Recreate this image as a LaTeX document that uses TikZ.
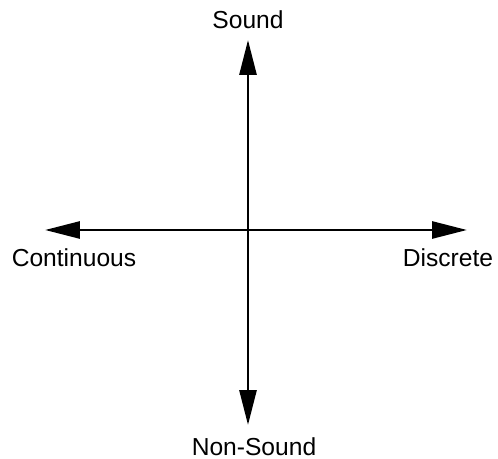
\documentclass[tikz,border=0pt]{standalone}
\usepackage{fontspec}
\setmainfont{Liberation Sans}
\usetikzlibrary{arrows.meta}
\tikzset{
  axislabel/.style={font=\fontsize{14}{16}\selectfont, inner sep=0pt},
  axisarrow/.style={-{Triangle[length=0.7cm, width=0.34cm]}, line width=1.6pt}
}
\begin{document}
\begin{tikzpicture}[x=0.02cm, y=0.02cm]
				\useasboundingbox (0,0) rectangle (498,-459);

				% Centre and axis ends
				\coordinate (origin) at (248,-230);
				\coordinate (up) at (248,-40);
				\coordinate (down) at (248,-425);
				\coordinate (left) at (45,-230);
				\coordinate (right) at (467,-230);

				% Axes
				\draw[axisarrow] (origin) -- (up);
				\draw[axisarrow] (origin) -- (down);
				\draw[axisarrow] (origin) -- (left);
				\draw[axisarrow] (origin) -- (right);

				% Labels
				\node[axislabel] (sound) at (248,-20) {Sound};
				\node[axislabel] (nonsound) at (254,-447) {Non-Sound};
				\node[axislabel] (continuous) at (74,-258) {Continuous};
				\node[axislabel] (discrete) at (448,-258) {Discrete};
			\end{tikzpicture}
\end{document}
